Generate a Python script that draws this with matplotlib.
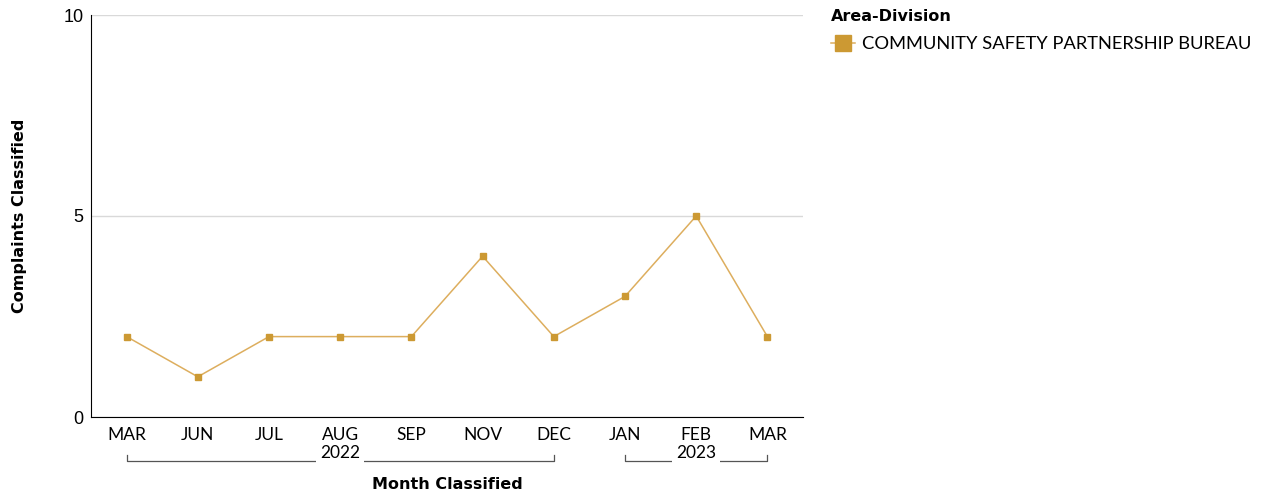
import matplotlib
matplotlib.use("Agg")
import matplotlib.pyplot as plt
import matplotlib.transforms as mtransforms
from matplotlib.lines import Line2D

months = ["MAR", "JUN", "JUL", "AUG", "SEP", "NOV", "DEC", "JAN", "FEB", "MAR"]
years = ["2022", "2022", "2022", "2022", "2022", "2022", "2022", "2023", "2023", "2023"]
complaints = [2, 1, 2, 2, 2, 4, 2, 3, 5, 2]
series_name = "COMMUNITY SAFETY PARTNERSHIP BUREAU"
legend_title = "Area-Division"
yticks = [0, 5, 10]

line_color = "#DDAE5E"
marker_color = "#CC9933"
font = "Lato"
bold_font = "DejaVu Sans"

fig = plt.figure(figsize=(12.65, 4.97), dpi=100)
ax = fig.add_axes([91/1265, 80/497, (803-91)/1265, (417-15)/497])

x = list(range(len(months)))
ax.plot(x, complaints, color=line_color, lw=1.1, zorder=3)
ax.plot(x, complaints, linestyle="none", marker="s", markersize=5,
        color=marker_color, zorder=4)

ax.set_xlim(-0.5, len(months) - 0.5)
ax.set_ylim(0, 10)
ax.set_yticks(yticks)
ax.set_yticklabels([str(v) for v in yticks], fontsize=13, family="Liberation Sans")
ax.tick_params(axis="y", length=0, pad=5.5)
ax.set_xticks(x)
ax.set_xticklabels(months, fontsize=12.5, family=font)
ax.tick_params(axis="x", length=0, pad=7)
ax.grid(axis="y", color="#D9D9D9", lw=1)
ax.set_axisbelow(True)
for s in ["top", "right"]:
    ax.spines[s].set_visible(False)
ax.spines["left"].set_color("black")
ax.spines["bottom"].set_color("black")

# year group brackets
trans = mtransforms.blended_transform_factory(ax.transData, ax.transAxes)
y_line = -0.109
y_top = -0.094
groups = []
for i, yr in enumerate(years):
    if groups and groups[-1][0] == yr:
        groups[-1][2] = i
    else:
        groups.append([yr, i, i])
for yr, i0, i1 in groups:
    ax.add_line(Line2D([i0, i0, i1, i1], [y_top, y_line, y_line, y_top],
                       transform=trans, color="#555555", lw=0.9, clip_on=False))
    ax.text((i0 + i1) / 2, y_line + 0.02, yr, transform=trans, ha="center", va="center",
            fontsize=12.5, family=font,
            bbox=dict(facecolor="white", edgecolor="none", pad=3))

ax.set_xlabel("Month Classified", fontsize=11.5, fontweight="bold", family=bold_font, labelpad=25)
ax.set_ylabel("Complaints Classified", fontsize=11.5, fontweight="bold", family=bold_font, labelpad=26)

# legend
handle = Line2D([0], [0], color=line_color, lw=1.1, marker="s", markersize=11,
                markerfacecolor=marker_color, markeredgecolor=marker_color)
leg = fig.legend([handle], [series_name], title=legend_title, loc="upper left",
                 bbox_to_anchor=(818/1265, 1.0 + 4/497), frameon=False,
                 prop={"family": font, "size": 13.2}, handlelength=1.3,
                 handletextpad=0.4, borderaxespad=0.3)
leg.get_title().set_fontweight("bold")
leg.get_title().set_family(bold_font)
leg.get_title().set_fontsize(11.5)
leg._legend_box.align = "left"
leg._legend_box.sep = 9

fig.savefig("out.png", dpi=100)
